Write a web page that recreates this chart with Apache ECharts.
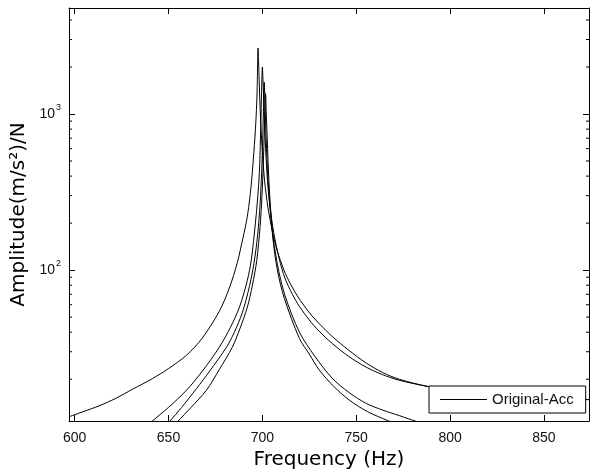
<!DOCTYPE html>
<html>
<head>
<meta charset="utf-8">
<script src="https://cdn.jsdelivr.net/npm/echarts@6/dist/echarts.min.js"></script>
<style>
  html, body { margin: 0; padding: 0; background: #fff; }
  #chart { width: 592px; height: 475px; }
</style>
</head>
<body>
<div id="chart"></div>
<script>
// axis range
const xMin = 597;
const xMax = 874;
const yMin = 10.8;
const yMax = 4775;

// minor ticks on the log axis (2..9 x 10^n)
const minorTicks = [20, 30, 40, 50, 60, 70, 80, 90, 200, 300, 400, 500, 600, 700, 800, 900, 2000, 3000, 4000];

// broad resonance curve
const freqA = [597, 605, 613, 622, 631, 641.5, 650, 659.6, 668, 677, 682.4, 686.7, 689, 691.5, 693, 694.1, 695.2, 696.3, 697, 697.3, 697.7,
  698.2, 699.0, 700.0, 701.2, 703, 705.5, 708, 711.5, 715, 718.6, 722, 726, 731, 737.2, 746, 755.3, 764, 772.9, 787.8, 800, 820, 845, 874];
const ampA = [11.5, 12.45, 13.5, 15.1, 17.3, 20.2, 23.4, 28.5, 36.7, 54.3, 76.7, 112, 148, 204, 269, 355, 513, 794, 1175, 1585, 2650,
  1778, 955, 575, 372, 251, 174, 132, 100, 81.3, 68.4, 59.7, 51.6, 44.5, 37.6, 30.7, 25.4, 22.1, 20.0, 18.0, 17.1, 16.1, 15.3, 14.8];

// second curve (peak ~700 Hz)
const freqB = [636, 641, 650, 659.6, 668, 677.1, 683, 687.8, 692, 694.1, 696.3, 697.5, 698.4, 699, 699.5, 700,
  700.5, 701, 701.5, 702, 703, 704, 706, 709, 712, 716, 719.7, 725, 730, 737.2, 746, 755.3, 764, 772.9, 787.8, 800, 820, 845, 874];
const ampB = [9.5, 10.7, 13.2, 17, 22.5, 32.1, 43, 57.9, 86, 116, 200, 290, 420, 700, 1250, 2000,
  1445, 977, 700, 520, 340, 260, 175, 118, 89, 70, 58.6, 47.9, 40.9, 33.9, 28, 23.9, 21.4, 19.7, 18, 17, 16, 15.3, 14.8];

// third curve
const freqC = [645, 650.5, 657, 664.9, 672, 680.9, 685, 689.4, 693.1, 695.5, 697.5, 698.8, 699.6, 700.2, 700.6, 701.0,
  701.4, 702, 703, 705, 708, 712, 719.7, 728, 737.2, 746, 755.3, 764, 772.9, 782.4, 795];
const ampC = [9.0, 10.7, 13.2, 17.4, 22.6, 32.1, 39.8, 53.7, 78.5, 110, 168, 266, 417, 700, 1096, 1600,
  1148, 700, 380, 190, 109, 69, 40.1, 28, 20.3, 16.5, 14, 12.7, 11.7, 10.7, 9.7];

// fourth curve
const freqD = [649, 654.8, 662, 670.2, 677, 684, 688, 692, 694.7, 697, 698.8, 699.8, 700.5, 701.1, 701.7,
  702.1, 702.6, 703.5, 705.5, 708, 711.7, 719.7, 725, 730.3, 738, 746.3, 756, 766.5, 775];
const ampD = [9.1, 10.7, 13.2, 17, 23, 32.1, 42, 57.9, 80, 115, 190, 300, 480, 800, 1350,
  1000, 700, 370, 165, 100, 66, 36.6, 29, 22.9, 18, 14.7, 12.4, 10.9, 9.9];

const curves = [[freqA, ampA], [freqB, ampB], [freqC, ampC], [freqD, ampD]];

const chart = echarts.init(document.getElementById("chart"));

const tickFont = "Liberation Sans";
const titleFont = "DejaVu Sans";

const lineSeries = curves.map(([f, a]) => ({
  type: "line",
  name: "Original-Acc",
  data: f.map((x, i) => [x, a[i]]),
  symbol: "none",
  smooth: 0.3,
  clip: true,
  lineStyle: { color: "#000", width: 1 },
  itemStyle: { color: "#000" },
  z: 2,
}));

const option = {
  animation: false,
  backgroundColor: "#fff",
  grid: { left: 69, right: 2, top: 8, bottom: 54 },
  legend: {
    data: ["Original-Acc"],
    left: 429,
    top: 386,
    backgroundColor: "#fff",
    borderColor: "#000",
    borderWidth: 1,
    borderRadius: 0,
    padding: [6, 12, 6, 11],
    itemWidth: 47,
    itemHeight: 14,
    icon: "path://M0,0L47,0L47,1L0,1Z",
    textStyle: { fontSize: 15, fontFamily: tickFont, color: "#111" },
    z: 10,
  },
  xAxis: [
    {
      type: "value",
      min: xMin,
      max: xMax,
      splitNumber: 5,
      position: "bottom",
      axisLine: { onZero: false, lineStyle: { color: "#000", width: 1 } },
      axisTick: { inside: true, length: 6, lineStyle: { color: "#000" } },
      axisLabel: {
        color: "#111",
        fontSize: 14,
        fontFamily: tickFont,
        margin: 10,
        formatter: (v) => (v % 50 === 0 ? String(v) : ""),
      },
      splitLine: { show: false },
      name: "Frequency (Hz)",
      nameLocation: "middle",
      nameGap: 27,
      nameTextStyle: { fontSize: 20, fontFamily: titleFont, color: "#000" },
    },
    {
      type: "value",
      min: xMin,
      max: xMax,
      splitNumber: 5,
      position: "top",
      axisLine: { onZero: false, lineStyle: { color: "#000", width: 1 } },
      axisTick: { inside: true, length: 6, lineStyle: { color: "#000" } },
      axisLabel: { show: false },
      splitLine: { show: false },
    },
  ],
  yAxis: [
    {
      type: "log",
      logBase: 10,
      min: yMin,
      max: yMax,
      position: "left",
      axisLine: { onZero: false, lineStyle: { color: "#000", width: 1 } },
      axisTick: { inside: true, length: 6, lineStyle: { color: "#000" } },
      axisLabel: {
        color: "#111",
        fontFamily: tickFont,
        margin: 8,
        formatter: (v) => {
          const l = Math.log10(v);
          if (Math.abs(l - Math.round(l)) > 1e-6) return "";
          return "{b|10}{s|" + Math.round(l) + "}";
        },
        rich: {
          b: { fontSize: 14, fontFamily: tickFont, color: "#111" },
          s: { fontSize: 9, fontFamily: tickFont, color: "#111", padding: [0, 0, 13, 1] },
        },
      },
      splitLine: { show: false },
      name: "Amplitude(m/s²)/N",
      nameLocation: "middle",
      nameGap: 38,
      nameTextStyle: { fontSize: 20, fontFamily: titleFont, color: "#000" },
    },
    {
      type: "log",
      logBase: 10,
      min: yMin,
      max: yMax,
      position: "right",
      axisLine: { onZero: false, lineStyle: { color: "#000", width: 1 } },
      axisTick: { inside: true, length: 6, lineStyle: { color: "#000" } },
      axisLabel: { show: false },
      splitLine: { show: false },
    },
  ],
  series: [
    ...lineSeries,
    {
      type: "custom",
      name: "minor",
      silent: true,
      z: 5,
      data: minorTicks.map((v) => [xMin, v]),
      renderItem: (params, api) => {
        const v = api.value(1);
        const l = api.coord([xMin, v]);
        const r = api.coord([xMax, v]);
        return {
          type: "group",
          children: [
            { type: "line", shape: { x1: l[0], y1: l[1], x2: l[0] + 3, y2: l[1] }, style: { stroke: "#000", lineWidth: 1 } },
            { type: "line", shape: { x1: r[0] - 3, y1: r[1], x2: r[0], y2: r[1] }, style: { stroke: "#000", lineWidth: 1 } },
          ],
        };
      },
    },
  ],
};

chart.setOption(option);
window.addEventListener("resize", () => chart.resize());
</script>
</body>
</html>
